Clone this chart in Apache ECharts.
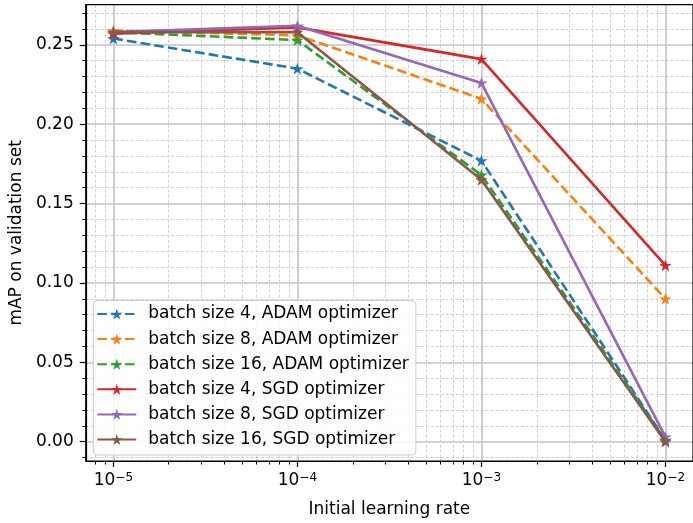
<!DOCTYPE html>
<html>
<head>
<meta charset="utf-8">
<script src="https://cdn.jsdelivr.net/npm/echarts@6/dist/echarts.min.js"></script>
<style>
  html, body { margin: 0; padding: 0; background: #fff; }
  #chart { width: 693px; height: 523px; }
</style>
</head>
<body>
<div id="chart"></div>
<script>
// Learning rates tried and the resulting validation mAP per configuration
const learningRates = [1e-5, 1e-4, 1e-3, 1e-2];
const adamBatch4  = [0.254, 0.235, 0.177, 0.001];
const adamBatch8  = [0.259, 0.256, 0.216, 0.090];
const adamBatch16 = [0.258, 0.253, 0.168, 0.001];
const sgdBatch4   = [0.257, 0.261, 0.241, 0.111];
const sgdBatch8   = [0.258, 0.262, 0.226, 0.003];
const sgdBatch16  = [0.258, 0.258, 0.165, 0.000];

// Tick positions
const xMajorTicks = [1e-5, 1e-4, 1e-3, 1e-2];
const xMinorMultiples = [2, 3, 4, 5, 6, 7, 8, 9];
const xMinorDecades = [1e-6, 1e-5, 1e-4, 1e-3, 1e-2];
const yMajorTicks = [0, 0.05, 0.10, 0.15, 0.20, 0.25];

const seriesNames = [
  'batch size 4, ADAM optimizer',
  'batch size 8, ADAM optimizer',
  'batch size 16, ADAM optimizer',
  'batch size 4, SGD optimizer',
  'batch size 8, SGD optimizer',
  'batch size 16, SGD optimizer'
];
const seriesValues = [adamBatch4, adamBatch8, adamBatch16, sgdBatch4, sgdBatch8, sgdBatch16];
const seriesColors = ['#1f77b4', '#ff7f0e', '#2ca02c', '#d62728', '#9467bd', '#8c564b'];
const seriesDashed = [true, true, true, false, false, false];

const FONT = 'DejaVu Sans';
const STAR = 'path://M100 0 L122.45 69.1 L195.11 69.1 L136.33 111.8 L158.78 180.9 L100 138.2 L41.22 180.9 L63.67 111.8 L4.89 69.1 L77.55 69.1 Z';

const X_MIN = Math.pow(10, -5.15);
const X_MAX = Math.pow(10, -1.85);

// 2..9 multiples of each decade that fall inside the visible range
const xMinorTicks = [];
xMinorDecades.forEach(d => xMinorMultiples.forEach(m => {
  const v = +(m * d).toPrecision(6);
  if (v > X_MIN && v < X_MAX) xMinorTicks.push(v);
}));

const series = seriesNames.map((name, i) => ({
  name: name,
  type: 'line',
  xAxisIndex: 0,
  data: learningRates.map((lr, j) => [lr, seriesValues[i][j]]),
  symbol: STAR,
  symbolSize: [12.5, 11.9],
  showAllSymbol: true,
  color: seriesColors[i],
  itemStyle: { color: seriesColors[i] },
  lineStyle: { width: 2.6, color: seriesColors[i], type: seriesDashed[i] ? [9.6, 4.2] : 'solid', cap: 'butt' },
  emphasis: { disabled: true },
  animation: false,
  z: 3 + i
}));

const chart = echarts.init(document.getElementById('chart'), null, { renderer: 'canvas' });
chart.setOption({
  animation: false,
  backgroundColor: '#ffffff',
  textStyle: { fontFamily: FONT },
  grid: {
    left: 84, top: 4.7, right: -6.7, bottom: 60.3,
    show: true, borderColor: '#000', borderWidth: 1.2, backgroundColor: 'transparent', z: 10
  },
  legend: {
    orient: 'vertical',
    left: 93.3, top: 300.5,
    padding: [5, 7, 7, 3],
    itemWidth: 39, itemHeight: 14, itemGap: 8.1,
    backgroundColor: 'rgba(255,255,255,0.85)',
    borderColor: '#cccccc', borderWidth: 1, borderRadius: 4,
    textStyle: { fontFamily: FONT, fontSize: 17, lineHeight: 17, color: '#000', padding: [0, 0, 0, 7] },
    data: seriesNames,
    z: 20
  },
  xAxis: [{
    // main log axis: decades, labels, major grid
    type: 'log',
    logBase: 10,
    position: 'bottom',
    min: X_MIN,
    max: X_MAX,
    name: 'Initial learning rate',
    nameLocation: 'middle',
    nameGap: 40,
    nameTextStyle: { fontFamily: FONT, fontSize: 17, color: '#000' },
    axisLine: { show: true, onZero: false, lineStyle: { color: '#000', width: 1.2 } },
    axisTick: { show: true, length: 6, customValues: xMajorTicks, lineStyle: { color: '#000', width: 1.2 } },
    minorTick: { show: false },
    splitLine: { show: true, lineStyle: { color: '#c4c4c4', width: 1.6 } },
    minorSplitLine: { show: false },
    axisLabel: {
      customValues: xMajorTicks,
      margin: 10,
      formatter: function (v) {
        const e = Math.round(Math.log10(v));
        return '{b|10}{s|' + (e < 0 ? '\u2212' : '') + Math.abs(e) + '}';
      },
      rich: {
        b: { fontFamily: FONT, fontSize: 17, color: '#000', lineHeight: 20 },
        s: { fontFamily: FONT, fontSize: 12, color: '#000', lineHeight: 20, padding: [0, 0, 6, 0] }
      }
    },
    z: 2
  }, {
    // companion log axis carrying the 2..9 minor ticks and dotted minor grid
    type: 'log',
    logBase: 10,
    position: 'bottom',
    offset: 0,
    min: X_MIN,
    max: X_MAX,
    axisLine: { show: false, onZero: false },
    axisTick: { show: true, length: 3.5, customValues: xMinorTicks, lineStyle: { color: '#000', width: 1 } },
    axisLabel: { show: false, customValues: xMinorTicks },
    splitLine: { show: true, lineStyle: { color: '#cfcfcf', width: 1, type: [3, 2] } },
    z: 1
  }],
  yAxis: {
    type: 'value',
    min: -0.0122,
    max: 0.2753,
    name: 'mAP on validation set',
    nameLocation: 'middle',
    nameGap: 49,
    nameTextStyle: { fontFamily: FONT, fontSize: 17, color: '#000' },
    axisLine: { show: true, onZero: false, lineStyle: { color: '#000', width: 1.2 } },
    axisTick: { show: true, length: 6, customValues: yMajorTicks, lineStyle: { color: '#000', width: 1.2 } },
    minorTick: { show: true, splitNumber: 5, length: 3.5, lineStyle: { color: '#000', width: 1 } },
    splitLine: { show: true, lineStyle: { color: '#c4c4c4', width: 1.6 } },
    minorSplitLine: { show: true, lineStyle: { color: '#cfcfcf', width: 1, type: [3, 2] } },
    axisLabel: {
      customValues: yMajorTicks,
      margin: 12,
      fontFamily: FONT, fontSize: 17, color: '#000',
      formatter: function (v) { return v.toFixed(2); }
    }
  },
  series: series
});
</script>
</body>
</html>
